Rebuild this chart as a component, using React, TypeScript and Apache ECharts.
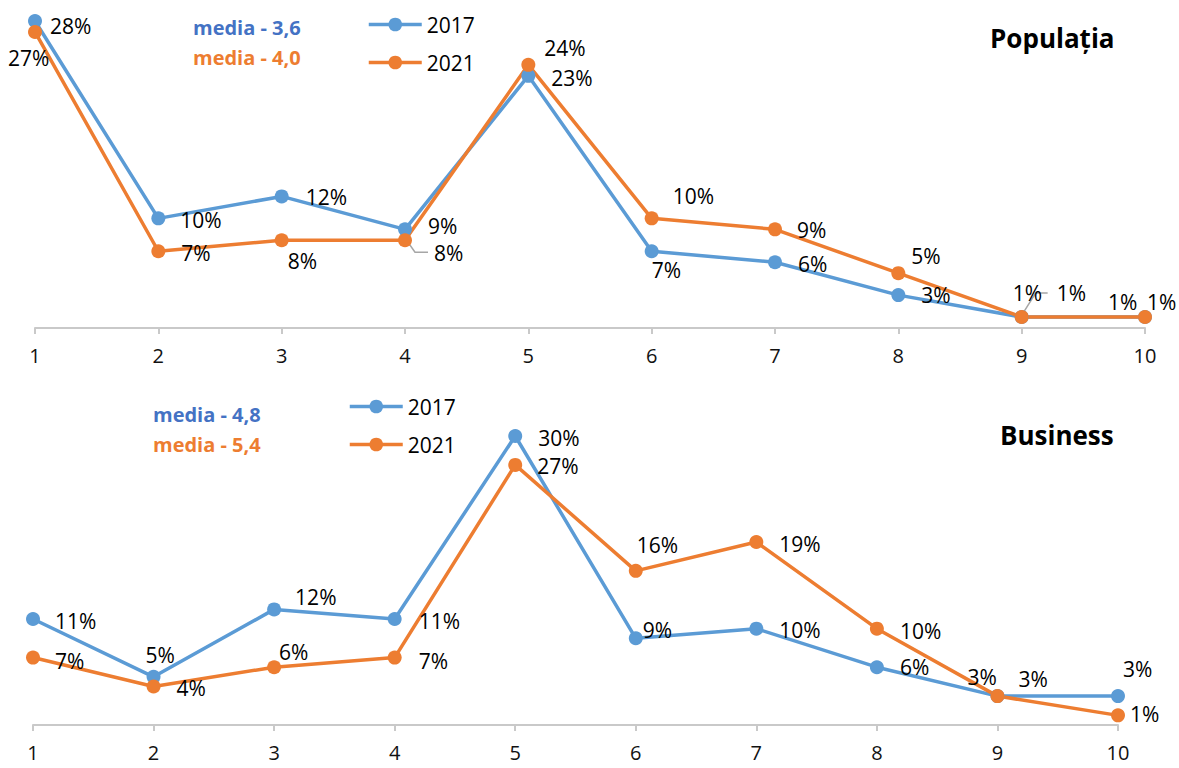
import React, { useEffect, useRef } from 'react';
import * as echarts from 'echarts';

// Scores 1..10 and share of respondents (%) per score
const categories = ['1', '2', '3', '4', '5', '6', '7', '8', '9', '10'];
const years = ['2017', '2021'];
const popul2017 = [28, 10, 12, 9, 23, 7, 6, 3, 1, 1];
const popul2021 = [27, 7, 8, 8, 24, 10, 9, 5, 1, 1];
const business2017 = [11, 5, 12, 11, 30, 9, 10, 6, 3, 3];
const business2021 = [7, 4, 6, 7, 27, 16, 19, 10, 3, 1];
const mediaPopul = ['3,6', '4,0'];
const mediaBusiness = ['4,8', '5,4'];
const titles = ['Populația', 'Business'];

// Label placement: [dx, dy] from a point's centre to its label's left edge / middle
const popShift2017 = [[15, 5], [22, 2], [24, 1], [23, -3], [23, 2], [0, 19], [23, 2], [23, 0], [-9, -24], [-37, -15]];
const popShift2021 = [[-27, 26], [23, 2], [6, 21], [29, 13], [16, -17], [21, -22], [22, 1], [13, -17], [35, -24], [2, -15]];
const busShift2017 = [[22, 2], [-8, -22], [21, -12], [24, 2], [23, 2], [7, -8], [23, 1], [23, 0], [-30, -19], [5, -27]];
const busShift2021 = [[22, 3], [23, 2], [5, -15], [24, 3], [22, 1], [1, -26], [23, 2], [23, 2], [21, -17], [12, -1]];

const BLUE = '#5B9BD5';
const ORANGE = '#ED7D31';
const MEDIA_BLUE = '#4472C4';
const FONT = '"Open Sans", "Noto Sans", sans-serif';
const SYMBOL = 14;

function lineSeries(name: string, values: number[], shifts: number[][], color: string, idx: number) {
  return {
    type: 'line',
    name,
    xAxisIndex: idx,
    yAxisIndex: idx,
    clip: false,
    symbol: 'circle',
    symbolSize: SYMBOL,
    itemStyle: { color },
    lineStyle: { color, width: 3.5 },
    emphasis: { disabled: true },
    label: {
      show: true,
      position: 'right',
      distance: 0,
      formatter: '{c}%',
      fontFamily: FONT,
      fontSize: 21,
      lineHeight: 20,
      color: '#000',
    },
    data: values.map((v, i) => ({
      value: v,
      label: { offset: [shifts[i][0] - SYMBOL / 2, shifts[i][1]] },
    })),
  };
}

function xAxis(idx: number) {
  return {
    type: 'category',
    gridIndex: idx,
    data: categories,
    boundaryGap: false,
    axisLine: { lineStyle: { color: '#c9c9c9', width: 2 } },
    axisTick: { show: true, length: 6, lineStyle: { color: '#c9c9c9', width: 2 } },
    axisLabel: { fontFamily: FONT, fontSize: 20, color: '#111', margin: 17 },
    splitLine: { show: false },
  };
}

function legend(left: number, top: number) {
  return {
    orient: 'vertical',
    left,
    top,
    data: years,
    selectedMode: false,
    itemWidth: 53,
    itemHeight: 17,
    itemGap: 17,
    lineStyle: { width: 3.5 },
    textStyle: { fontFamily: FONT, fontSize: 21, color: '#000', lineHeight: 20 },
  };
}

function mediaTexts(x: number, y1: number, y2: number, vals: string[]) {
  return [
    { text: `media - ${vals[0]}`, y: y1, fill: MEDIA_BLUE },
    { text: `media - ${vals[1]}`, y: y2, fill: ORANGE },
  ].map((t) => ({
    type: 'text',
    x,
    y: t.y,
    style: {
      text: t.text,
      fill: t.fill,
      font: `bold 20px ${FONT}`,
      textVerticalAlign: 'middle',
    },
  }));
}

export default function App() {
  const ref = useRef<HTMLDivElement>(null);

  useEffect(() => {
    if (!ref.current) return;
    const chart = echarts.init(ref.current, undefined, { renderer: 'svg' });
    chart.setOption({
      animation: false,
      backgroundColor: '#fff',
      grid: [
        { left: 35, right: 34, top: 21, height: 307 },
        { left: 33, right: 61, top: 436, height: 289 },
      ],
      xAxis: [xAxis(0), xAxis(1)],
      yAxis: [
        { type: 'value', gridIndex: 0, min: 0, max: 28, show: false },
        { type: 'value', gridIndex: 1, min: 0, max: 30, show: false },
      ],
      legend: [legend(362, 9), legend(343, 391)],
      series: [
        lineSeries(years[0], popul2017, popShift2017, BLUE, 0),
        lineSeries(years[1], popul2021, popShift2021, ORANGE, 0),
        lineSeries(years[0], business2017, busShift2017, BLUE, 1),
        lineSeries(years[1], business2021, busShift2021, ORANGE, 1),
      ],
    });

    // Leader lines for the two displaced 2021 labels in the upper chart
    const p4 = chart.convertToPixel({ xAxisIndex: 0, yAxisIndex: 0 }, [3, popul2021[3]]) as number[];
    const p9 = chart.convertToPixel({ xAxisIndex: 0, yAxisIndex: 0 }, [8, popul2021[8]]) as number[];
    const leader = (pts: number[][]) => ({
      type: 'polyline',
      z: 1,
      shape: { points: pts },
      style: { stroke: '#a6a6a6', lineWidth: 1.5, fill: 'none' },
    });

    chart.setOption({
      graphic: [
        ...mediaTexts(193, 27, 57, mediaPopul),
        ...mediaTexts(153, 414, 444, mediaBusiness),
        {
          type: 'text',
          x: 990,
          y: 38,
          style: { text: titles[0], font: `bold 26px ${FONT}`, fill: '#000', textVerticalAlign: 'middle' },
        },
        {
          type: 'text',
          x: 1000,
          y: 435,
          style: { text: titles[1], font: `bold 26px ${FONT}`, fill: '#000', textVerticalAlign: 'middle' },
        },
        leader([[p4[0] + 3, p4[1] + 2], [p4[0] + 10, p4[1] + 12], [p4[0] + 23, p4[1] + 12]]),
        leader([[p9[0] + 2, p9[1] - 5], [p9[0] + 14, p9[1] - 24], [p9[0] + 26, p9[1] - 24]]),
      ],
    });

    return () => chart.dispose();
  }, []);

  return (
    <div
      ref={ref}
      style={{ position: 'fixed', left: 0, top: 0, width: 1179, height: 768, background: '#fff' }}
    />
  );
}
